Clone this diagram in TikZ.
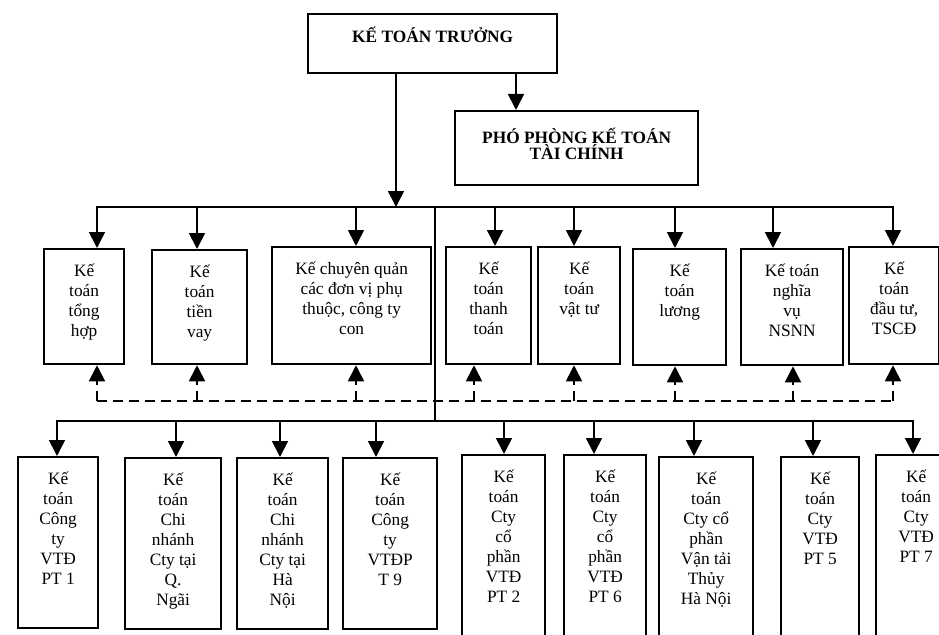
\documentclass[tikz,border=0pt]{standalone}
\usepackage{fontspec}
\setmainfont{Liberation Serif}
\usetikzlibrary{arrows.meta}

\newlength{\pxu}\setlength{\pxu}{0.75pt}
\newcommand{\cell}[4][0pt]{\parbox[b][#3\pxu][t]{#2\pxu}{\vspace*{#1}\centering\rule{0pt}{20.5pt}#4}}

\begin{document}
\begin{tikzpicture}[x=0.75pt,y=-0.75pt]

        \useasboundingbox (0,0) rectangle (939,635);
        \clip (0,0) rectangle (939,635);

        \coordinate (tl) at (97,207);  \coordinate (tr) at (893,207);
        \coordinate (dl) at (97,401);  \coordinate (dr) at (893,401);
        \coordinate (bl) at (57,421);  \coordinate (br) at (913,421);

        \begin{scope}[every node/.style={draw,line width=1.7pt,inner sep=0pt,anchor=north west,font=\fontsize{13}{15}\selectfont}]
            \node (ktt) at (307,13) {\cell[1pt]{249}{59}{\bfseries KẾ TOÁN TRƯỞNG}};
            \node (pp) at (454,110) {\cell[3.5pt]{243}{74}{\bfseries\fontsize{13}{12.5}\selectfont PHÓ PHÒNG KẾ TOÁN\\TÀI CHÍNH}};

            \node (m1) at (43,248) {\cell{80}{115}{Kế\\toán\\tổng\\hợp}};
            \node (m2) at (151,249) {\cell{95}{114}{Kế\\toán\\tiền\\vay}};
            \node (m3) at (271,246) {\cell{159}{117}{Kế chuyên quản\\các đơn vị phụ\\thuộc, công ty\\con}};
            \node (m4) at (445,246) {\cell{85}{117}{Kế\\toán\\thanh\\toán}};
            \node (m5) at (537,246) {\cell{82}{117}{Kế\\toán\\vật tư}};
            \node (m6) at (632,248) {\cell{93}{116}{Kế\\toán\\lương}};
            \node (m7) at (740,248) {\cell{102}{116}{Kế toán\\nghĩa\\vụ\\NSNN}};
            \node (m8) at (848,246) {\cell{90}{117}{Kế\\toán\\đầu tư,\\TSCĐ}};

            \node (b1) at (17,456) {\cell{80}{171}{Kế\\toán\\Công\\ty\\VTĐ\\PT 1}};
            \node (b2) at (124,457) {\cell{96}{171}{Kế\\toán\\Chi\\nhánh\\Cty tại\\Q.\\Ngãi}};
            \node (b3) at (236,457) {\cell{91}{171}{Kế\\toán\\Chi\\nhánh\\Cty tại\\Hà\\Nội}};
            \node (b4) at (342,457) {\cell{94}{171}{Kế\\toán\\Công\\ty\\VTĐP\\T 9}};
            \node (b5) at (461,454) {\cell{83}{200}{Kế\\toán\\Cty\\cổ\\phần\\VTĐ\\PT 2}};
            \node (b6) at (563,454) {\cell{82}{200}{Kế\\toán\\Cty\\cổ\\phần\\VTĐ\\PT 6}};
            \node (b7) at (658,456) {\cell{94}{200}{Kế\\toán\\Cty cổ\\phần\\Vận tải\\Thủy\\Hà Nội}};
            \node (b8) at (780,456) {\cell{78}{200}{Kế\\toán\\Cty\\VTĐ\\PT 5}};
            \node (b9) at (875,454) {\cell{80}{200}{Kế\\toán\\Cty\\VTĐ\\PT 7}};
        \end{scope}

        \begin{scope}[>={Triangle[length=12pt,width=12pt]},line width=1.3pt,line cap=rect,
                      dline/.style={dash pattern=on 7.5pt off 4.5pt,line cap=butt}]
            \draw (tl) -- (tr);
            \draw [->] (ktt.south -| 396,0) -- (tl -| 396,0);
            \draw [->] (ktt.south -| 516,0) -- (pp.north -| 516,0);
            \draw (tl -| 435,0) -- (bl -| 435,0);

            \draw [->] (tl) -- (m1.north -| tl);
            \draw [->] (tl -| 197,0) -- (m2.north -| 197,0);
            \draw [->] (tl -| 356,0) -- (m3.north -| 356,0);
            \draw [->] (tl -| 495,0) -- (m4.north -| 495,0);
            \draw [->] (tl -| 574,0) -- (m5.north -| 574,0);
            \draw [->] (tl -| 675,0) -- (m6.north -| 675,0);
            \draw [->] (tl -| 773,0) -- (m7.north -| 773,0);
            \draw [->] (tr) -- (m8.north -| tr);

            \draw [dline] (dl) -- (dr);
            \draw [dline,->] (dl) -- (m1.south -| dl);
            \draw [dline,->] (dl -| 197,0) -- (m2.south -| 197,0);
            \draw [dline,->] (dl -| 356,0) -- (m3.south -| 356,0);
            \draw [dline,->] (dl -| 474,0) -- (m4.south -| 474,0);
            \draw [dline,->] (dl -| 574,0) -- (m5.south -| 574,0);
            \draw [dline,->] (dl -| 675,0) -- (m6.south -| 675,0);
            \draw [dline,->] (dl -| 793,0) -- (m7.south -| 793,0);
            \draw [dline,->] (dr) -- (m8.south -| dr);

            \draw (bl) -- (br);
            \draw [->] (bl) -- (b1.north -| bl);
            \draw [->] (bl -| 176,0) -- (b2.north -| 176,0);
            \draw [->] (bl -| 280,0) -- (b3.north -| 280,0);
            \draw [->] (bl -| 376,0) -- (b4.north -| 376,0);
            \draw [->] (bl -| 504,0) -- (b5.north -| 504,0);
            \draw [->] (bl -| 594,0) -- (b6.north -| 594,0);
            \draw [->] (bl -| 694,0) -- (b7.north -| 694,0);
            \draw [->] (bl -| 813,0) -- (b8.north -| 813,0);
            \draw [->] (br) -- (b9.north -| br);
        \end{scope}

\end{tikzpicture}
\end{document}
